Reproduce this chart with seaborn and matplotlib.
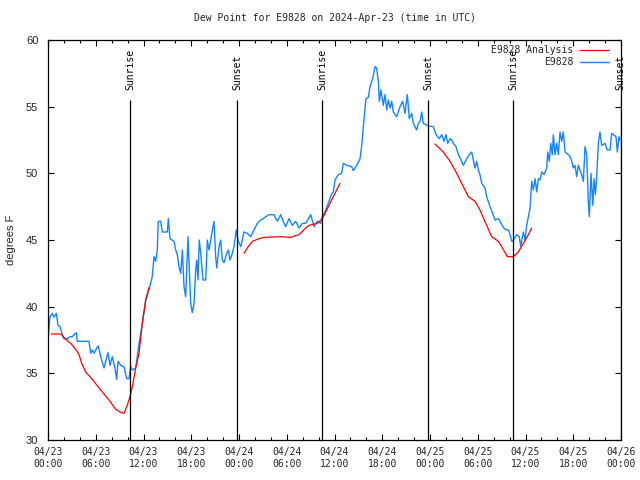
import numpy as np
import pandas as pd
import seaborn as sns
import matplotlib
matplotlib.use("Agg")
import matplotlib.pyplot as plt
import matplotlib.dates as mdates

# === DATA (hours after 2024-04-23 00:00 UTC) ===

obs_hours = [0.0, 0.25, 0.54, 0.75, 1.04, 1.26, 1.51, 1.8, 2.01, 2.51, 2.76, 3.05, 3.27, 3.56, 3.68,
             4.02, 5.15, 5.37, 5.57, 5.78, 6.12, 6.32, 6.62, 7.04, 7.25, 7.54, 7.79, 8.08, 8.38, 8.63,
             8.8, 9.13, 9.55, 9.89, 10.18, 10.39, 10.6, 11.02, 11.44, 11.85, 12.28, 12.69, 13.1, 13.32,
             13.53, 13.73, 13.86, 14.16, 14.36, 14.99, 15.12, 15.33, 15.83, 16.05, 16.25, 16.46, 16.68,
             16.88, 17.09, 17.3, 17.59, 17.81, 17.93, 18.13, 18.35, 18.56, 18.69, 18.85, 19.01, 19.19,
             19.48, 19.82, 20.02, 20.23, 20.45, 20.65, 20.86, 21.07, 21.2, 21.49, 21.7, 21.9, 22.12,
             22.46, 22.66, 22.87, 23.16, 23.37, 23.66, 23.91, 24.22, 24.63, 25.04, 25.47, 25.89, 26.3,
             26.73, 26.93, 27.36, 27.77, 28.4, 28.81, 29.24, 29.66, 29.87, 30.28, 30.7, 31.13, 31.54,
             31.96, 32.38, 33.01, 33.43, 33.84, 34.27, 34.47, 34.9, 35.31, 35.6, 35.85,
             36.06, 36.48, 36.9, 37.11, 37.53, 38.16, 38.36, 38.79, 39.21, 39.42, 39.62, 39.96, 40.25,
             40.46, 40.8, 41.09, 41.3, 41.51, 41.63, 41.84, 42.13, 42.35, 42.56, 42.76, 42.98, 43.19,
             43.39, 43.82, 44.23, 44.57, 44.86, 45.15, 45.4, 45.7, 45.9, 46.33, 46.53, 46.75, 46.96,
             47.16, 47.79, 48.42, 48.76, 49.17, 49.47, 49.76, 50.01, 50.23, 50.52, 50.73, 50.93, 51.27,
             51.56, 51.99, 52.19, 52.61, 52.94, 53.24, 53.44, 53.66, 53.87, 54.07, 54.28, 54.5, 54.91,
             55.12, 55.54, 55.88, 56.17, 56.59, 56.8, 57.14, 57.43, 57.84, 58.06, 58.27, 58.47, 58.9,
             59.22, 59.4, 59.53, 59.73, 59.94, 60.15, 60.36, 60.57, 60.78, 60.98, 61.2, 61.41, 61.61,
             61.83, 62.04, 62.33, 62.67, 62.79, 62.99, 63.17, 63.37, 63.5, 63.71, 63.92, 64.12, 64.34,
             64.55, 64.75, 64.97, 65.38, 65.6, 65.81, 66.01, 66.22, 66.43, 66.64, 66.85, 67.06, 67.27,
             67.48, 67.69, 67.89, 68.02, 68.23, 68.45, 68.61, 68.78, 68.95, 69.15, 69.36, 69.58, 69.99,
             70.28, 70.62, 70.83, 71.03, 71.37, 71.54, 71.75, 71.88]
obs_dewpt = [37.5, 39.25, 39.5, 39.2, 39.5, 38.6, 38.5, 37.9, 37.6, 37.6, 37.75, 37.75, 37.9, 38.05, 37.4,
             37.4, 37.4, 36.5, 36.75, 36.5, 36.9, 37.05, 36.25, 35.4, 35.9, 36.55, 35.6, 36.25, 35.5, 34.55,
             35.9, 35.6, 35.5, 34.6, 34.6, 35.5, 35.25, 35.4, 37.25, 38.75, 40.5, 41.25, 42.25, 43.75,
             43.4, 44.25, 46.4, 46.4, 45.6, 45.6, 46.6, 45.1, 44.9, 44.25, 43.9, 43.0, 42.5,
             44.25, 41.5, 40.75, 45.25, 42.0, 40.25, 39.55, 40.25, 42.75, 43.5, 42.0, 45.0, 44.0,
             42.0, 42.0, 45.0, 44.25, 45.0, 45.75, 46.4, 43.75, 42.9, 44.5, 45.0, 43.5, 43.3,
             44.0, 44.25, 43.5, 44.0, 44.5, 45.75, 44.9, 44.5, 45.6, 45.5, 45.25, 45.75, 46.25,
             46.5, 46.55, 46.75, 46.9, 46.9, 46.4, 46.9, 46.25, 46.0, 46.6, 46.1, 46.4, 45.9,
             46.25, 46.25, 46.9, 46.0, 46.4, 46.25, 46.75, 47.25, 47.9, 48.4, 48.6,
             49.5, 49.9, 50.0, 50.75, 50.6, 50.5, 50.2, 50.6, 51.1, 52.1, 53.5, 55.6, 55.7,
             56.5, 57.1, 58.0, 57.9, 56.9, 55.4, 56.25, 55.1, 55.9, 54.75, 55.5, 54.9, 55.4,
             54.6, 54.25, 55.0, 55.4, 54.5, 55.9, 54.1, 54.5, 53.75, 53.25, 53.75, 53.9, 54.6,
             53.75, 53.55, 53.5, 52.9, 52.6, 52.9, 52.4, 52.9, 52.25, 52.6, 52.5, 52.25, 52.0,
             51.4, 50.9, 50.6, 51.1, 51.4, 51.6, 51.0, 50.4, 50.9, 50.25, 49.9, 49.25, 48.9,
             48.25, 47.5, 47.0, 46.5, 46.6, 46.4, 46.0, 45.8, 45.75, 45.4, 44.9, 45.0, 45.4,
             45.25, 44.5, 45.0, 45.6, 45.0, 46.1, 46.75, 47.4, 49.4, 48.75, 49.6, 48.6, 49.6,
             49.5, 50.1, 49.9, 50.4, 51.6, 50.9, 52.25, 51.4, 52.9, 51.4, 52.25, 51.4, 53.1,
             52.4, 53.1, 51.6, 51.4, 51.25, 50.9, 50.4, 50.6, 49.75, 50.6, 50.25, 49.9, 49.4,
             52.0, 51.4, 47.9, 46.75, 50.0, 47.6, 49.6, 48.4, 49.75, 52.25, 53.1, 52.1, 52.25,
             51.75, 51.75, 53.0, 52.9, 52.75, 51.6, 52.75, 52.5]

# analysis curve comes in three separate runs
ana_hours = [0.41, 1.6, 2.22, 2.85, 3.56, 3.9, 4.23, 4.74, 5.57, 6.62, 7.67, 8.5, 9.05, 9.55, 9.96,
             10.3, 10.6, 11.02, 11.44, 11.85, 12.28, 12.69,
             24.63, 25.04, 25.67, 26.51, 27.14, 29.24, 30.5, 31.54, 32.38, 32.8, 33.84, 34.47, 35.02,
             35.85, 36.69,
             48.63, 49.67, 50.52, 51.36, 52.19, 52.82, 53.66, 54.28, 55.12, 55.75, 56.59, 57.01, 57.72,
             58.47, 59.1, 59.73, 60.36, 60.78]
ana_dewpt = [37.95, 37.95, 37.55, 37.25, 36.75, 36.4, 35.75, 35.1, 34.55, 33.75, 33.0, 32.3, 32.1, 32.0, 32.6,
             33.25, 34.0, 35.4, 36.5, 38.75, 40.5, 41.45,
             44.0, 44.4, 44.9, 45.1, 45.2, 45.25, 45.2, 45.4, 45.9, 46.1, 46.25, 46.6, 47.25,
             48.25, 49.25,
             52.2, 51.6, 50.9, 50.0, 49.0, 48.25, 47.9, 47.25, 46.1, 45.25, 44.9, 44.5, 43.75,
             43.75, 44.1, 44.75, 45.4, 45.9]
ana_run = [1] * 22 + [2] * 15 + [3] * 18

sun_hours = [10.35, 23.79, 34.47, 47.78, 58.45, 71.95]
sun_labels = ['Sunrise', 'Sunset', 'Sunrise', 'Sunset', 'Sunrise', 'Sunset']

t0 = pd.Timestamp('2024-04-23 00:00')
obs = pd.DataFrame({'time': t0 + pd.to_timedelta(obs_hours, unit='h'), 'dewpt': obs_dewpt})
ana = pd.DataFrame({'time': t0 + pd.to_timedelta(ana_hours, unit='h'), 'dewpt': ana_dewpt, 'run': ana_run})
sun_times = t0 + pd.to_timedelta(sun_hours, unit='h')

# === PLOT ===

sns.set_style('ticks')
plt.rcParams['font.family'] = ['DejaVu Sans Mono']
mono = 'DejaVu Sans Mono'
sans = 'Liberation Sans'

fig = plt.figure(figsize=(6.4, 4.8), dpi=100)
ax = fig.add_axes([48 / 640, 40 / 480, 573 / 640, 400 / 480])

sns.lineplot(data=obs, x='time', y='dewpt', ax=ax, color='#1485ff', lw=1.0,
             estimator=None, sort=False, label='E9828')
first = True
for run, grp in ana.groupby('run'):
    sns.lineplot(data=grp, x='time', y='dewpt', ax=ax, color='#ff0000', lw=0.9,
                 estimator=None, sort=False, label='E9828 Analysis' if first else None)
    first = False

#sunrise / sunset markers
ax.vlines(sun_times, 30, 55.5, color='black', lw=0.9)
for t, lab in zip(sun_times, sun_labels):
    ax.text(mdates.date2num(t), 56.25, lab, rotation=90, ha='center', va='bottom',
            fontsize=7, family=mono, color='black')

ax.set_xlim(t0, t0 + pd.Timedelta(hours=72))
ax.set_ylim(30, 60)
ax.xaxis.set_major_locator(mdates.HourLocator(byhour=[0, 6, 12, 18]))
ax.xaxis.set_minor_locator(mdates.HourLocator(byhour=range(0, 24, 2)))
ax.xaxis.set_major_formatter(mdates.DateFormatter('%m/%d\n%H:%M'))
ax.set_yticks(range(30, 61, 5))
ax.tick_params(axis='both', which='both', direction='in', top=True, right=True,
               color='black', width=0.8)
ax.tick_params(axis='both', which='major', length=4.5)
ax.tick_params(axis='both', which='minor', length=2.5)
ax.tick_params(axis='x', which='major', pad=5, labelsize=7)
ax.tick_params(axis='y', which='major', pad=7, labelsize=8)
for lbl in ax.get_xticklabels():
    lbl.set_family(mono)
for lbl in ax.get_yticklabels():
    lbl.set_family(sans)
for sp in ax.spines.values():
    sp.set_linewidth(0.9)
    sp.set_color('black')

ax.set_xlabel('')
ax.set_ylabel('degrees F', family=sans, fontsize=8, labelpad=7)
ax.set_title('Dew Point for E9828 on 2024-Apr-23 (time in UTC)', family=mono, fontsize=7, pad=14)

handles, labels = ax.get_legend_handles_labels()
order = [labels.index('E9828 Analysis'), labels.index('E9828')]
leg = ax.legend([handles[i] for i in order], [labels[i] for i in order], loc='upper right',
                bbox_to_anchor=(1 - 10 / 573, 1 - 3 / 400),
                frameon=False, markerfirst=False, handlelength=3.0, handletextpad=0.7,
                labelspacing=0.25, borderaxespad=0.0, borderpad=0.2,
                prop={'family': mono, 'size': 7})

fig.savefig('out.png', dpi=100)
